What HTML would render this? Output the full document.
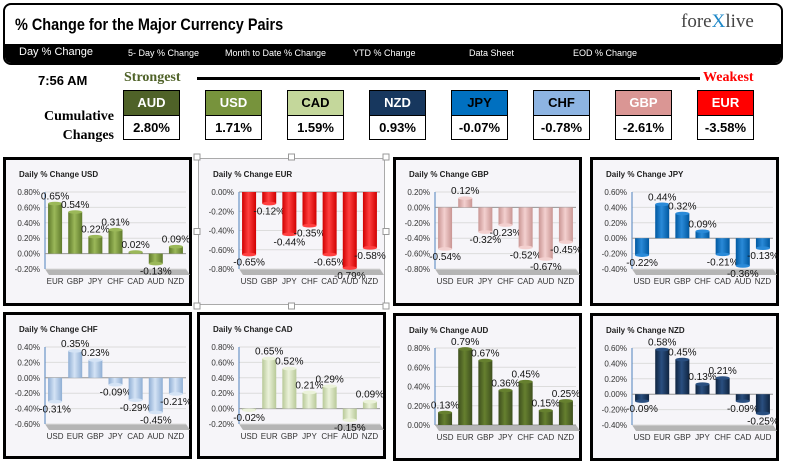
<!DOCTYPE html>
<html><head><meta charset="utf-8"><style>
body{margin:0;width:787px;height:466px;background:#fff;font-family:"Liberation Sans",sans-serif;overflow:hidden;position:relative}
.abs{position:absolute}
.cond{font-family:"Liberation Sans Narrow","Liberation Sans",sans-serif;font-weight:bold}
.box{position:absolute;width:55px;border:1px solid #000}
.box .h{height:24px;line-height:24px;text-align:center;font-size:13px;font-weight:bold;border-bottom:1px solid #000}
.box .v{height:23px;line-height:23px;text-align:center;font-size:13px;font-weight:bold;background:#fff}
.nav{position:absolute;top:48px;color:#fff;font-size:9px}
</style></head><body>
<div class="abs" style="left:3px;top:3px;width:776px;height:58px;border:2px solid #000;border-radius:8px;overflow:hidden">
<div class="abs cond" style="left:10px;top:10px;font-size:17px;transform:scaleX(.85);transform-origin:left">% Change for the Major Currency Pairs</div>
<div class="abs" style="left:676px;top:6px;font-family:'Liberation Serif',serif;font-size:19px;color:#444">fore<span style="color:#1e88c8">X</span>live</div>
<div class="abs" style="left:0;top:39px;width:776px;height:19px;background:#000"></div>
</div>
<div class="nav" style="left:19px;font-size:11px;top:46px">Day % Change</div>
<div class="nav" style="left:128px">5- Day % Change</div>
<div class="nav" style="left:225px">Month to Date % Change</div>
<div class="nav" style="left:353px">YTD % Change</div>
<div class="nav" style="left:469px">Data Sheet</div>
<div class="nav" style="left:573px">EOD % Change</div>
<div class="abs cond" style="left:38px;top:73px;font-size:13px">7:56 AM</div>
<div class="abs cond" style="left:124px;top:70px;font-size:14px;color:#4f6228;font-family:'Liberation Serif',serif">Strongest</div>
<div class="abs" style="left:197px;top:77px;width:503px;height:3px;background:#000"></div>
<div class="abs cond" style="left:703px;top:70px;font-size:14px;color:#f00;font-family:'Liberation Serif',serif">Weakest</div>
<div class="abs cond" style="left:38px;top:107px;font-size:14px;text-align:right;width:76px;line-height:19px;font-family:'Liberation Serif',serif">Cumulative<br>Changes</div>
<div id="boxes"></div>
<svg id="charts" class="abs" style="left:0;top:0" width="787" height="466"></svg>
<script>
const boxCur=["AUD","USD","CAD","NZD","JPY","CHF","GBP","EUR"];
const boxVal=["2.80%","1.71%","1.59%","0.93%","-0.07%","-0.78%","-2.61%","-3.58%"];
const boxBg=["#4f6228","#77933c","#c4d79b","#17375e","#0070c0","#8db4e2","#da9694","#ff0000"];
const boxFg=["#fff","#fff","#000","#fff","#000","#000","#fff","#fff"];
const bx=document.getElementById('boxes');
boxCur.forEach((c,i)=>{const d=document.createElement('div');d.className='box';d.style.left=(123+i*82)+'px';d.style.top='90px';


d.innerHTML='<div class="h" style="background:'+boxBg[i]+';color:'+boxFg[i]+'">'+c+'</div><div class="v">'+boxVal[i]+'</div>';bx.appendChild(d);});

const usdCats=["EUR","GBP","JPY","CHF","CAD","AUD","NZD"], usdVals=[0.65,0.54,0.22,0.31,0.02,-0.13,0.09];
const eurCats=["USD","GBP","JPY","CHF","CAD","AUD","NZD"], eurVals=[-0.65,-0.12,-0.44,-0.35,-0.65,-0.79,-0.58];
const gbpCats=["USD","EUR","JPY","CHF","CAD","AUD","NZD"], gbpVals=[-0.54,0.12,-0.32,-0.23,-0.52,-0.67,-0.45];
const jpyCats=["USD","EUR","GBP","CHF","CAD","AUD","NZD"], jpyVals=[-0.22,0.44,0.32,0.09,-0.21,-0.36,-0.13];
const chfCats=["USD","EUR","GBP","JPY","CAD","AUD","NZD"], chfVals=[-0.31,0.35,0.23,-0.09,-0.29,-0.45,-0.21];
const cadCats=["USD","EUR","GBP","JPY","CHF","AUD","NZD"], cadVals=[-0.02,0.65,0.52,0.21,0.29,-0.15,0.09];
const audCats=["USD","EUR","GBP","JPY","CHF","CAD","NZD"], audVals=[0.13,0.79,0.67,0.36,0.45,0.15,0.25];
const nzdCats=["USD","EUR","GBP","JPY","CHF","CAD","AUD"], nzdVals=[-0.09,0.58,0.45,0.13,0.21,-0.09,-0.25];
const usdTicks=[-0.2,0.8], eurTicks=[-0.8,0], gbpTicks=[-0.8,0.2], jpyTicks=[-0.4,0.6];
const chfTicks=[-0.6,0.4], cadTicks=[-0.2,0.8], audTicks=[0,0.8], nzdTicks=[-0.4,0.6];

const charts=[
 {n:"USD",c:usdCats,v:usdVals,t:usdTicks,col:["#5f7a2c","#9bb859"],x:3,y:157,h:149},
 {n:"EUR",c:eurCats,v:eurVals,t:eurTicks,col:["#d00000","#ff4040"],x:197,y:157,h:149,sel:1},
 {n:"GBP",c:gbpCats,v:gbpVals,t:gbpTicks,col:["#c99593","#f3d0cf"],x:393,y:157,h:149},
 {n:"JPY",c:jpyCats,v:jpyVals,t:jpyTicks,col:["#0058a0","#2a8ad8"],x:590,y:157,h:149},
 {n:"CHF",c:chfCats,v:chfVals,t:chfTicks,col:["#8faed4","#d4e3f5"],x:3,y:312,h:147},
 {n:"CAD",c:cadCats,v:cadVals,t:cadTicks,col:["#b8c998","#ebf2da"],x:197,y:312,h:147},
 {n:"AUD",c:audCats,v:audVals,t:audTicks,col:["#3e4f1e","#66802f"],x:393,y:313,h:148},
 {n:"NZD",c:nzdCats,v:nzdVals,t:nzdTicks,col:["#0f2440","#2a4f80"],x:590,y:313,h:148}
];
const svg=document.getElementById('charts');const NS="http://www.w3.org/2000/svg";
function el(tag,a,p){const e=document.createElementNS(NS,tag);for(const k in a)e.setAttribute(k,a[k]);(p||svg).appendChild(e);return e;}
const defs=el('defs',{});
charts.forEach((ch,ci)=>{
 const g=el('linearGradient',{id:'g'+ci,x1:0,x2:1,y1:0,y2:0},defs);
 el('stop',{offset:'0',['stop-color']:ch.col[0]},g);el('stop',{offset:'0.45',['stop-color']:ch.col[1]},g);el('stop',{offset:'1',['stop-color']:ch.col[0]},g);
 const grp=el('g',{});
 
 
 const W=189;
 const r=el('rect',{x:ch.x+1.5,y:ch.y+1.5,width:W-3,height:ch.h-3,fill:'#f6f5f9',stroke:ch.sel?'#aaa':'#000','stroke-width':ch.sel?1:3},grp);
 
 
 if(ch.sel){[[0,0],[W/2,0],[W,0],[0,ch.h/2],[W,ch.h/2],[0,ch.h],[W/2,ch.h],[W,ch.h]].forEach(p=>{el('rect',{x:ch.x+p[0]-3,y:ch.y+p[1]-3,width:6,height:6,fill:'#fff',stroke:'#999'},grp);});}
 const tt=el('text',{x:ch.x+16,y:ch.y+20,'font-size':8,'font-weight':'bold',fill:'#222'},grp);tt.textContent='Daily % Change '+ch.n;
 
 const L=ch.x+42,R=ch.x+183,T=ch.y+35,B=ch.y+112;
 const [lo,hi]=ch.t;const ys=v=>B-(v-lo)/(hi-lo)*(B-T);
 el('polygon',{points:`${L},${B} ${R},${B} ${R+4},${B+6} ${L+4},${B+6}`,fill:'#b5b5b5'},grp);
 const n=Math.round((hi-lo)/0.2);
 for(let k=0;k<=n;k++){const v=Math.round((lo+k*0.2)*100)/100;const y=ys(v);
  el('line',{x1:L,x2:R,y1:y,y2:y,stroke:'#dcdcdc','stroke-width':1},grp);
  const tl=el('text',{x:L-5,y:y+3,'font-size':8,'text-anchor':'end',fill:'#333'},grp);tl.textContent=(Math.abs(v)<1e-9?0:v).toFixed(2)+'%';}
 el('line',{x1:L,x2:L,y1:T,y2:B,stroke:'#4f81bd'},grp);
 el('line',{x1:L,x2:R,y1:ys(0),y2:ys(0),stroke:'#999'},grp);
 const bw=(R-L)/ch.c.length;
 ch.c.forEach((c,i)=>{const v=ch.v[i];const cx=L+bw*(i+0.5);const y0=ys(0),y1=ys(v);
  const top=Math.min(y0,y1),hh=Math.max(Math.abs(y1-y0),1.5);
  const b=el('rect',{x:cx-7,y:top,width:14,height:hh,fill:'url(#g'+ci+')'},grp);
  
  
  el('ellipse',{cx:cx,cy:y1,rx:7,ry:1.8,fill:ch.col[1]},grp);
  const lab=el('text',{x:cx,y:v>=0?y1-4:y1+11,'font-size':10,'text-anchor':'middle',fill:'#111'},grp);lab.textContent=v.toFixed(2)+'%';
  
  const cl=el('text',{x:cx,y:ch.y+127,'font-size':8,'text-anchor':'middle',fill:'#333'},grp);cl.textContent=c;
  
 });
});
</script>
</body></html>
